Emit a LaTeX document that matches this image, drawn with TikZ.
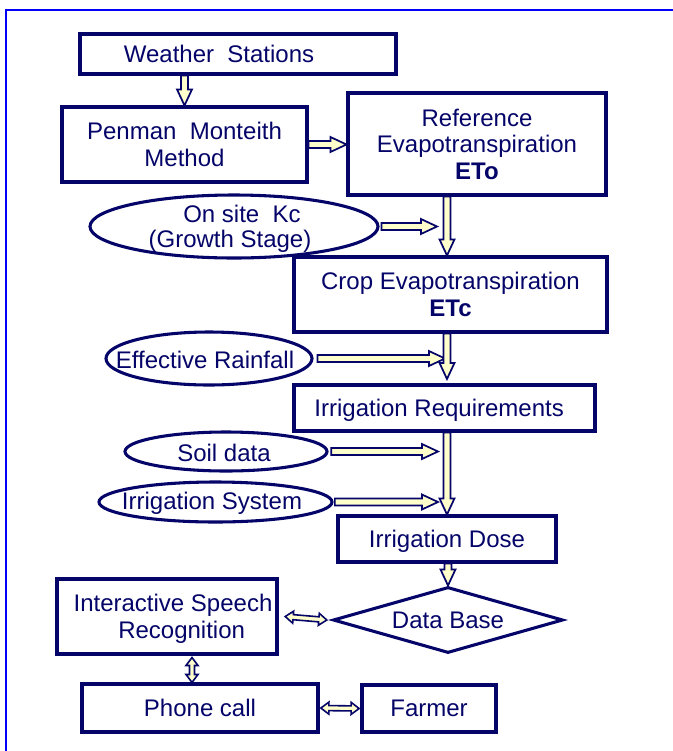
\documentclass[tikz,border=0pt]{standalone}
\usepackage{fontspec}
\setmainfont{Liberation Sans}
\usetikzlibrary{shapes.geometric,calc}
\definecolor{navy}{RGB}{5,5,105}
\definecolor{yel}{RGB}{255,255,204}
\definecolor{bordblue}{RGB}{0,0,250}
\newcommand\fs{\fontsize{18}{20}\selectfont}
\newcommand\arrgeom[2]{%
 \path #1 coordinate (bA) #2 coordinate (bB);%
 \pgfpointdiff{\pgfpointanchor{bA}{center}}{\pgfpointanchor{bB}{center}}%
 \pgfgetlastxy{\bdx}{\bdy}%
 \pgfmathsetmacro\bang{atan2(\bdy,\bdx)}%
 \pgfmathsetmacro\blen{veclen(\bdx,\bdy)}%
}
\newcommand\blockarr[2]{%
 \arrgeom{#1}{#2}%
 \draw[barrow,shift={(bA)},rotate=\bang] (0pt,-2.6pt) -- ({\blen pt-12pt},-2.6pt) -- ({\blen pt-12pt},-5.6pt) -- (\blen pt,0pt) -- ({\blen pt-12pt},5.6pt) -- ({\blen pt-12pt},2.6pt) -- (0pt,2.6pt) -- cycle;%
}
\newcommand\dblarr[2]{%
 \arrgeom{#1}{#2}%
 \draw[barrow,line width=1.2pt,shift={(bA)},rotate=\bang] (0pt,0pt) -- (6pt,4.5pt) -- (6pt,1.9pt) -- ({\blen pt-6pt},1.9pt) -- ({\blen pt-6pt},4.5pt) -- (\blen pt,0pt) -- ({\blen pt-6pt},-4.5pt) -- ({\blen pt-6pt},-1.9pt) -- (6pt,-1.9pt) -- (6pt,-4.5pt) -- cycle;%
}
\tikzset{
 box/.style={draw=navy, line width=2.3pt, rectangle, inner sep=0pt, align=center, text=navy, font=\fs, text depth=0pt},
 ell/.style={draw=navy, line width=2.3pt, ellipse, inner sep=0pt},
 txt/.style={text=navy, font=\fs, align=center, inner sep=0pt},
 barrow/.style={draw=navy, fill=yel, line width=1.3pt, line join=miter},
}
\begin{document}
\begin{tikzpicture}[x=0.75pt, y=-0.75pt]
\useasboundingbox (0,0) rectangle (673,751);
\fill[white] (0,0) rectangle (673,751);
\draw[draw=bordblue, line width=1.8pt] (6,751) -- (6,10) -- (673,10);

% boxes
\node[box, minimum width=237pt, minimum height=30pt] (ws) at (238,54) {Weather\ \ Stations\kern28.5pt};
\node[box, minimum width=183.75pt, minimum height=56.25pt] (pm) at (184.5,144.5) {Penman\ \ Monteith\\Method};
\node[box, minimum width=193.5pt, minimum height=76.5pt] (ref) at (477,144) {Reference\\Evapotranspiration\\\textbf{ETo}};
\node[box, minimum width=234.75pt, minimum height=56.25pt] (crop) at (450.5,294.5) {Crop Evapotranspiration\\\textbf{ETc}};
\node[box, minimum width=225.75pt, minimum height=34.5pt] (ir) at (444.5,408) {Irrigation Requirements\kern8pt};
\node[box, minimum width=163.5pt, minimum height=34.5pt] (dose) at (447,539) {Irrigation Dose};
\node[box, minimum width=165pt, minimum height=56.25pt] (isr) at (167,616.5) {\hspace*{9pt}Interactive Speech\\\hspace*{22pt}Recognition};
\node[box, minimum width=177pt, minimum height=36pt] (phone) at (200,708) {Phone call};
\node[box, minimum width=100.5pt, minimum height=35.25pt] (farmer) at (429,708.5) {Farmer};
\node[draw=navy, line width=2.3pt, diamond, aspect=3.48, minimum width=172.5pt, minimum height=49.5pt, inner sep=0pt, text=navy, font=\fs, text depth=0pt] (db) at (448,620) {Data Base};

% ellipses
\node[ell, minimum width=216pt, minimum height=47.25pt] (kc) at (234,226.5) {};
\node[txt] (kct1) at (242,214) {On site\ \ Kc};
\node[txt] (kct2) at (230,241) {(Growth Stage)};
\node[ell, minimum width=154.5pt, minimum height=39.75pt] (rain) at (209,358.5) {};
\node[txt] (raint) at (205,360) {Effective Rainfall};
\node[ell, minimum width=151.5pt, minimum height=29.25pt] (soil) at (226,451.5) {};
\node[txt] (soilt) at (224,453) {Soil data};
\node[ell, minimum width=174.75pt, minimum height=30pt] (sys) at (215.5,502) {};
\node[txt] (syst) at (212,503) {Irrigation System};

% free ends
\coordinate (trunk) at (447,0);
\coordinate (kcend) at (437,226.5);
\coordinate (rainend) at (445,358.5);
\coordinate (soilend) at (438,451.5);
\coordinate (sysend) at (438,502);
\coordinate (irtip) at (447,379);
\coordinate (vx) at (192,0);

% block arrows
\blockarr{(ws.south -| pm.north)}{(pm.north)}
\blockarr{(pm.east)}{(pm.east -| ref.west)}
\blockarr{([xshift=1.5pt]kc.east)}{(kcend)}
\blockarr{(ref.south -| trunk)}{(crop.north -| trunk)}
\blockarr{([xshift=3pt]rain.east)}{(rainend)}
\blockarr{(crop.south -| trunk)}{(irtip)}
\blockarr{([xshift=2pt]soil.east)}{(soilend)}
\blockarr{([xshift=1pt]sys.east)}{(sysend)}
\blockarr{(ir.south -| trunk)}{(dose.north -| trunk)}
\blockarr{(dose.south -| db.north)}{(db.north)}

% double arrows
\dblarr{([xshift=5pt]isr.east)}{([xshift=-3.5pt]db.west)}
\dblarr{($(isr.south -| vx)+(0,2)$)}{(phone.north -| vx)}
\dblarr{([xshift=1pt]phone.east)}{([xshift=-1pt]farmer.west)}
\end{tikzpicture}
\end{document}
